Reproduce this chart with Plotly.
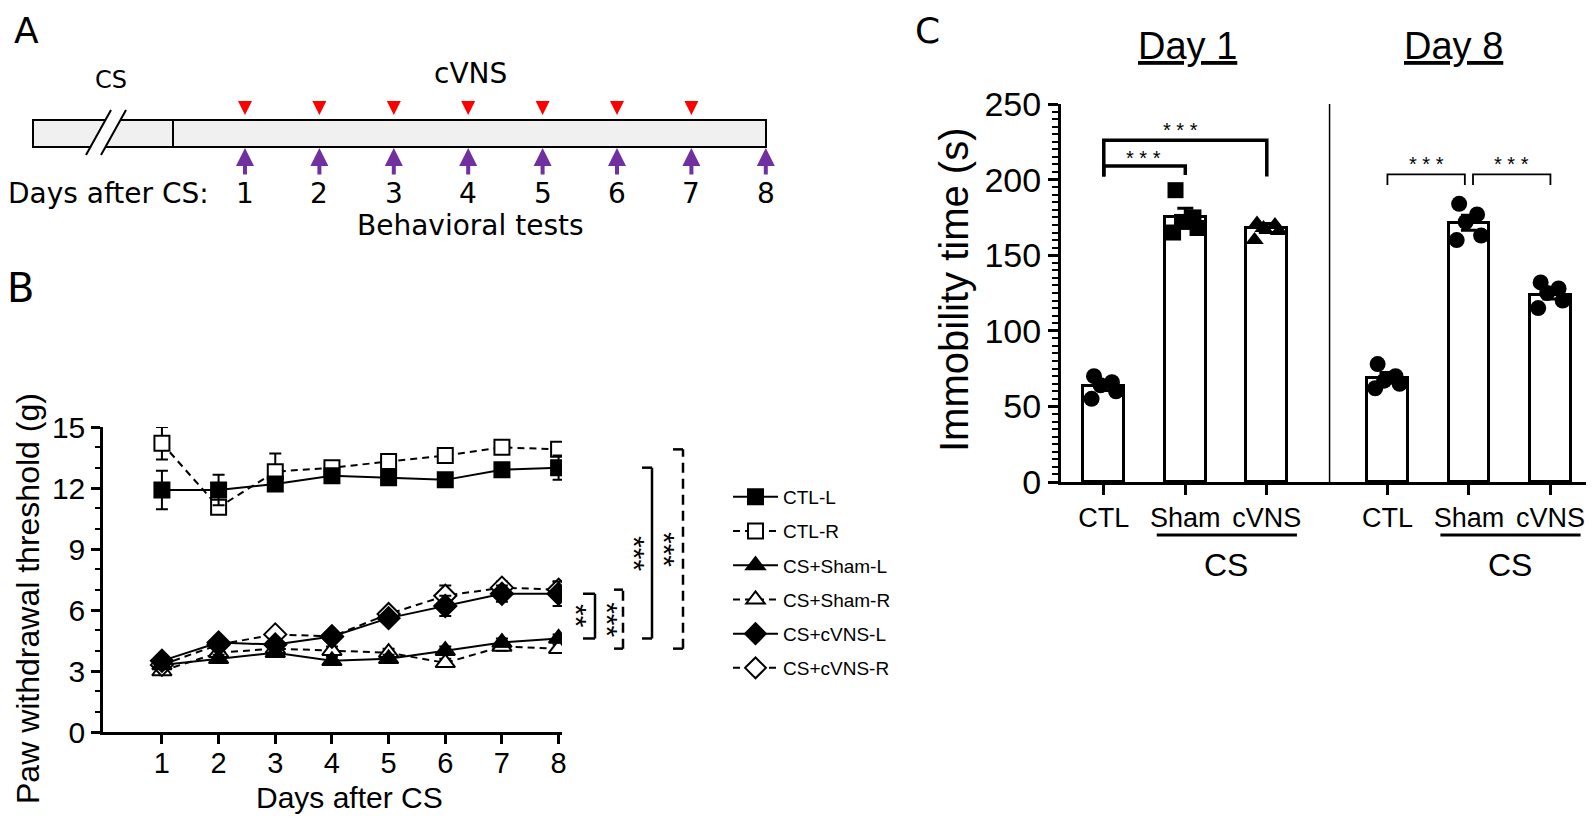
import plotly.graph_objects as go

# page is offset by the default 8px body margin; figure sized to fit the window
OFF = 8
W, H = 1594 - OFF, 819 - OFF
def px(p): return (p - OFF) / W
def py(p): return 1 - (p - OFF) / H

# ---------------- data ----------------
# Panel A: experimental schedule
vns_days = [1, 2, 3, 4, 5, 6, 7]
test_days = [1, 2, 3, 4, 5, 6, 7, 8]

# Panel B: paw withdrawal threshold (g)
days = [1, 2, 3, 4, 5, 6, 7, 8]
ctl_l = [11.9, 11.9, 12.2, 12.6, 12.5, 12.4, 12.9, 13.0]
ctl_l_sem = [0.95, 0.75, 0.3, 0.2, 0.2, 0.25, 0.3, 0.6]
ctl_r = [14.2, 11.05, 12.8, 13.0, 13.3, 13.6, 14.0, 13.9]
ctl_r_sem = [0.8, 0.3, 0.9, 0.2, 0.2, 0.3, 0.3, 0.3]
sham_l = [3.3, 3.6, 3.9, 3.5, 3.6, 4.0, 4.4, 4.6]
sham_l_sem = [0.2, 0.2, 0.2, 0.2, 0.2, 0.2, 0.2, 0.2]
sham_r = [3.0, 3.9, 4.1, 4.0, 3.9, 3.4, 4.2, 4.1]
sham_r_sem = [0.2, 0.2, 0.2, 0.2, 0.2, 0.2, 0.2, 0.2]
cvns_l = [3.5, 4.4, 4.3, 4.7, 5.6, 6.2, 6.8, 6.8]
cvns_l_sem = [0.2, 0.2, 0.2, 0.2, 0.2, 0.5, 0.4, 0.6]
cvns_r = [3.3, 4.3, 4.8, 4.7, 5.8, 6.7, 7.1, 7.0]
cvns_r_sem = [0.2, 0.2, 0.2, 0.2, 0.2, 0.5, 0.3, 0.4]

# Panel C: immobility time (s)
c_labels = ["CTL", "Sham", "cVNS", "CTL", "Sham", "cVNS"]
c_mean = [63.5, 175, 168, 69, 171.5, 124]
c_sem = [3, 6, 3, 3.5, 5, 3]
c_points = [
    [70, 66, 64, 60, 55],
    [193, 175, 172, 168, 165],
    [171, 170, 168, 166, 160],
    [78, 70, 67, 65, 62],
    [184, 177, 172, 163, 160],
    [132, 128, 125, 120, 115],
]

# ---------------- style / layout constants ----------------
FB = "Liberation Sans, Arial, sans-serif"
FA = "DejaVu Sans, sans-serif"
c_pos = [1, 2, 3, 4.48, 5.48, 6.48]
c_symbols = ["circle", "square", "triangle-up", "circle", "circle", "circle"]
jitter = [-0.12, 0.1, -0.04, 0.15, -0.15]
DASH = "7px,5px"

fig = go.Figure()

# ---------------- Panel B traces ----------------
series = [
    ("CTL-R", ctl_r, ctl_r_sem, "square", "white", DASH, 15, 2),
    ("CS+Sham-R", sham_r, sham_r_sem, "triangle-up", "white", DASH, 17, 4),
    ("CS+cVNS-R", cvns_r, cvns_r_sem, "diamond", "white", DASH, 17, 6),
    ("CTL-L", ctl_l, ctl_l_sem, "square", "black", "solid", 15, 1),
    ("CS+Sham-L", sham_l, sham_l_sem, "triangle-up", "black", "solid", 17, 3),
    ("CS+cVNS-L", cvns_l, cvns_l_sem, "diamond", "black", "solid", 17, 5),
]
for name, vals, sem, sym, fill, dash, size, rank in series:
    fig.add_trace(go.Scatter(
        x=days, y=vals, name=name, mode="lines+markers",
        line=dict(color="black", width=2, dash=dash),
        marker=dict(symbol=sym, size=size, color=fill,
                    line=dict(color="black", width=2)),
        error_y=dict(type="data", array=sem, color="black", thickness=2, width=6),
        legendrank=rank, legendgroup=name,
        xaxis="x", yaxis="y",
    ))

# ---------------- Panel C traces ----------------
fig.add_trace(go.Bar(
    x=c_pos, y=c_mean, width=0.5, showlegend=False,
    marker=dict(color="white", line=dict(color="black", width=3)),
    error_y=dict(type="data", array=c_sem, color="black", thickness=3, width=8),
    xaxis="x2", yaxis="y2",
))
for i, pts in enumerate(c_points):
    fig.add_trace(go.Scatter(
        x=[c_pos[i] + j for j in jitter], y=pts, mode="markers", showlegend=False,
        marker=dict(symbol=c_symbols[i], size=16, color="black"),
        xaxis="x2", yaxis="y2",
    ))

shapes = []
ann = []

def text(x, y, t, size, family=FB, angle=0, xanchor="center", xref="paper", yref="paper"):
    ann.append(dict(xref=xref, yref=yref, x=x, y=y, text=t, textangle=angle,
                    showarrow=False, xanchor=xanchor, yanchor="middle",
                    font=dict(family=family, size=size, color="black")))

# ---------------- Panel A (schematic) ----------------
def ax_(d):
    return 245 + (d - 1) * 74.4

shapes.append(dict(type="rect", xref="paper", yref="paper",
                   x0=px(33), x1=px(766), y0=py(147), y1=py(120),
                   fillcolor="#f0f0f0", line=dict(color="black", width=2)))
shapes.append(dict(type="line", xref="paper", yref="paper",
                   x0=px(173), x1=px(173), y0=py(147), y1=py(120),
                   line=dict(color="black", width=2)))
# break marks
shapes.append(dict(type="path", xref="paper", yref="paper",
                   path=f"M {px(86)} {py(155)} L {px(111)} {py(110)} L {px(126)} {py(110)} L {px(101)} {py(155)} Z",
                   fillcolor="white", line=dict(width=0)))
for (xa, xb) in [(86, 111), (101, 126)]:
    shapes.append(dict(type="line", xref="paper", yref="paper",
                       x0=px(xa), y0=py(155), x1=px(xb), y1=py(110),
                       line=dict(color="black", width=2)))
# red triangles (cVNS)
for d in vns_days:
    x = ax_(d)
    shapes.append(dict(type="path", xref="paper", yref="paper",
                       path=f"M {px(x-7)} {py(101)} L {px(x+7)} {py(101)} L {px(x)} {py(115)} Z",
                       fillcolor="#ff0000", line=dict(width=0)))
# purple arrows (tests)
for d in test_days:
    x = ax_(d)
    ann.append(dict(xref="paper", yref="paper", x=px(x), y=py(148), ax=0, ay=28,
                    text="", showarrow=True, arrowhead=2, arrowsize=0.9,
                    arrowwidth=4, arrowcolor="#7030a0"))
    text(px(x), py(193), str(d), 28, FA)
text(px(6), py(193), "Days after CS:", 28, FA, xanchor="left")
text(px(470), py(226), "Behavioral tests", 28, FA)
text(px(470), py(73), "cVNS", 28, FA)
text(px(111), py(80), "CS", 24, FA)
text(px(26), py(31), "A", 36, FA)
text(px(20), py(288), "B", 40, FA)
text(px(927), py(31), "C", 36, FA)

# ---------------- Panel B annotations / brackets ----------------
text(px(28), py(599), "Paw withdrawal threshold (g)", 32, angle=-90)
text(px(349), py(797), "Days after CS", 30)
brackets_b = [
    # (top value, bottom value, vertical x px, tick start px, star x px, text, dashed)
    (cvns_l[-1], sham_l[-1], 595, 583, 577, "**", False),
    (cvns_r[-1], sham_r[-1], 623, 614, 608, "***", True),
    (ctl_l[-1], sham_l[-1], 652, 642, 635, "***", False),
    (ctl_r[-1], sham_r[-1], 683, 673, 665, "***", True),
]
for top, bot, xv, xt, xs, txt, dashed in brackets_b:
    lstyle = dict(color="black", width=2.5, dash="10px,6px" if dashed else "solid")
    shapes.append(dict(type="line", xref="paper", yref="y", x0=px(xv), x1=px(xv),
                       y0=bot, y1=top, line=lstyle))
    for yv in (top, bot):
        shapes.append(dict(type="line", xref="paper", yref="y", x0=px(xt), x1=px(xv),
                           y0=yv, y1=yv, line=dict(color="black", width=2.5)))
    text(px(xs), (top + bot) / 2, txt, 30, angle=90, yref="y")

# ---------------- Panel C annotations / brackets ----------------
text(px(954), py(290), "Immobility time (s)", 40, angle=-90)
text(px(1187), py(46), "<u>Day 1</u>", 38)
text(px(1453), py(46), "<u>Day 8</u>", 38)
# divider between days
div_x = (c_pos[2] + c_pos[3]) / 2 + 0.03
shapes.append(dict(type="line", xref="x2", yref="y2", x0=div_x, x1=div_x, y0=0, y1=250,
                   line=dict(color="black", width=1.5)))
# CS underline + label
for a, b in [(1, 2), (4, 5)]:
    shapes.append(dict(type="line", xref="x2", yref="paper",
                       x0=c_pos[a] - 0.35, x1=c_pos[b] + 0.37, y0=py(535), y1=py(535),
                       line=dict(color="black", width=3)))
    text((c_pos[a] + c_pos[b]) / 2, py(565), "CS", 32, xref="x2")

def bracket_c(i, j, ytop, yleg_i, yleg_j, w, xi_off=0.0, xj_off=0.0):
    xi, xj = c_pos[i] + xi_off, c_pos[j] + xj_off
    shapes.append(dict(type="path", xref="x2", yref="y2",
                       path=f"M {xi} {yleg_i} L {xi} {ytop} L {xj} {ytop} L {xj} {yleg_j}",
                       line=dict(color="black", width=w)))

bracket_c(0, 2, 226, 202, 202, 3.5)
bracket_c(0, 1, 209, 202, 203, 3.5)
bracket_c(3, 4, 203.5, 196.5, 196.5, 1.8, 0.0, -0.05)
bracket_c(4, 5, 203.5, 196.5, 196.5, 1.8, 0.05, 0.0)
stars_c = [(1.49, 214.5), (1.94, 232.5), (4.96, 210), (6.0, 210)]
for xs, ys in stars_c:
    text(xs, ys, "* * *", 20, xref="x2", yref="y2")

axis_common = dict(showline=True, linecolor="black", ticks="outside", tickcolor="black",
                   showgrid=False, zeroline=False, automargin=False)
fig.update_layout(
    width=W, height=H, margin=dict(l=0, r=0, t=0, b=0, autoexpand=False),
    paper_bgcolor="white", plot_bgcolor="white",
    shapes=shapes, annotations=ann,
    bargap=0,
    legend=dict(x=px(728), y=py(478), xanchor="left", yanchor="top",
                font=dict(family=FB, size=19, color="black"),
                bgcolor="rgba(0,0,0,0)", tracegroupgap=6.5, itemwidth=45,
                traceorder="grouped"),
    xaxis=dict(domain=[px(103), px(562)], range=[-0.04, 8.06],
               tickvals=days, linewidth=2.5, ticklen=9, tickwidth=2.5,
               ticklabelstandoff=-6,
               tickfont=dict(family=FB, size=29, color="black"), **axis_common),
    yaxis=dict(domain=[py(732), py(427)], range=[0, 15], tickvals=[0, 3, 6, 9, 12, 15],
               linewidth=2.5, ticklen=9, tickwidth=2.5,
               minor=dict(dtick=1, ticks="outside", ticklen=5, tickwidth=2, tickcolor="black"),
               tickfont=dict(family=FB, size=30, color="black"), **axis_common),
    xaxis2=dict(domain=[px(1061), px(1592)], range=[0.475, 6.99], anchor="y2",
                tickvals=c_pos, ticktext=c_labels, linewidth=3, ticklen=10, tickwidth=3,
                tickfont=dict(family=FB, size=27, color="black"), **axis_common),
    yaxis2=dict(domain=[py(482), py(104)], range=[0, 250], anchor="x2",
                tickvals=[0, 50, 100, 150, 200, 250], linewidth=3, ticklen=10, tickwidth=3,
                minor=dict(dtick=5, ticks="outside", ticklen=6, tickwidth=2, tickcolor="black"),
                tickfont=dict(family=FB, size=34, color="black"), **axis_common),
)

fig.write_html("out.html")
